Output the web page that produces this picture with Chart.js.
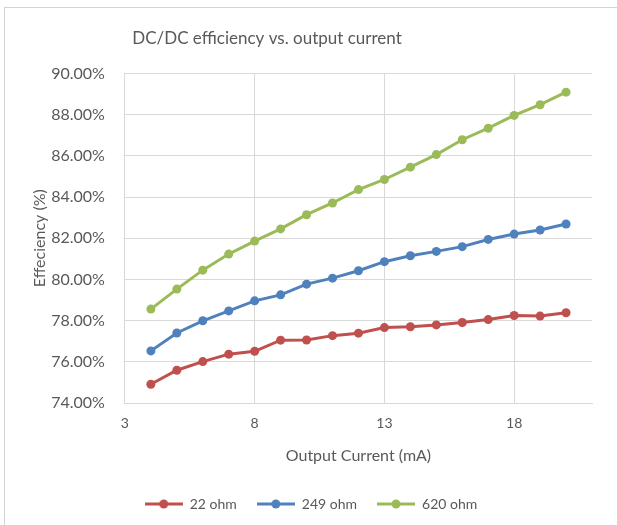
<!DOCTYPE html>
<html lang="en">
<head>
    <meta charset="UTF-8">
    <title>DC/DC efficiency vs. output current</title>
    <script src="https://cdn.jsdelivr.net/npm/chart.js"></script>
    <style>
        html, body { margin: 0; padding: 0; background: #fff; }
        #wrap { position: relative; width: 617px; height: 525px; }
        #frame { position: absolute; left: 4px; top: 7px; right: 0; bottom: 0;
                 border-top: 1px solid #d4d4d4; border-left: 1px solid #d4d4d4; }
        canvas { position: absolute; left: 0; top: 0; }
    </style>
</head>
<body>
<div id="wrap">
    <div id="frame"></div>
    <canvas id="effChart" width="617" height="525"></canvas>
</div>
<script>
    // output current (mA)
    const currents = [4, 5, 6, 7, 8, 9, 10, 11, 12, 13, 14, 15, 16, 17, 18, 19, 20];

    // efficiency (%) per load resistor
    const eff22 = [74.91, 75.59, 76.01, 76.37, 76.51, 77.05, 77.06, 77.27, 77.39, 77.66, 77.70, 77.79, 77.91, 78.05, 78.25, 78.22, 78.38];
    const eff249 = [76.53, 77.40, 77.99, 78.47, 78.96, 79.25, 79.77, 80.06, 80.42, 80.86, 81.15, 81.36, 81.59, 81.94, 82.20, 82.40, 82.69];
    const eff620 = [78.56, 79.53, 80.45, 81.23, 81.86, 82.45, 83.14, 83.71, 84.36, 84.85, 85.45, 86.06, 86.78, 87.34, 87.96, 88.48, 89.09];

    const seriesNames = ['22 ohm', '249 ohm', '620 ohm'];
    const seriesColors = ['#C0504D', '#4F81BD', '#9BBB59'];

    // axis ticks
    const xTickValues = [3, 8, 13, 18];
    const xMin = 3, xMax = 21;
    const yMin = 74, yMax = 90, yStep = 2;

    const textColor = '#595959';
    const gridColor = '#d9d9d9';
    const fontFamily = 'Lato, "Open Sans", sans-serif';

    // petite image "ligne + point" pour la légende, comme Excel
    function legendMarker(color) {
        const c = document.createElement('canvas');
        c.width = 38; c.height = 12;
        const g = c.getContext('2d');
        g.strokeStyle = color;
        g.lineWidth = 3;
        g.beginPath(); g.moveTo(0, 6); g.lineTo(38, 6); g.stroke();
        g.fillStyle = color;
        g.beginPath(); g.arc(19, 6, 4.5, 0, Math.PI * 2); g.fill();
        return c;
    }

    function toPoints(values) {
        return currents.map((x, i) => ({ x: x, y: values[i] }));
    }

    // le titre Excel n'est pas centré sur tout le canvas : on le décale un peu à gauche
    const shiftTitle = {
        id: 'shiftTitle',
        afterLayout(chart) {
            if (chart.titleBlock) chart.titleBlock.right -= 88;
        }
    };

    const allValues = [eff22, eff249, eff620];
    const datasets = allValues.map((vals, i) => ({
        label: seriesNames[i],
        data: toPoints(vals),
        borderColor: seriesColors[i],
        backgroundColor: seriesColors[i],
        borderWidth: 3,
        pointRadius: 4.5,
        pointHoverRadius: 4.5,
        pointBorderWidth: 0,
        pointStyle: 'circle',
        tension: 0
    }));

    const ctx = document.getElementById('effChart').getContext('2d');
    new Chart(ctx, {
        type: 'line',
        data: { datasets: datasets },
        plugins: [shiftTitle],
        options: {
            responsive: false,
            animation: false,
            layout: { padding: { top: 28, right: 25, left: 30, bottom: 4 } },
            plugins: {
                title: {
                    display: true,
                    text: 'DC/DC efficiency vs. output current',
                    color: textColor,
                    font: { family: fontFamily, size: 17, weight: 'normal' },
                    padding: { top: 0, bottom: 25 }
                },
                legend: {
                    position: 'bottom',
                    labels: {
                        color: textColor,
                        font: { family: fontFamily, size: 14 },
                        usePointStyle: true,
                        pointStyleWidth: 38,
                        padding: 20,
                        generateLabels: function (chart) {
                            return chart.data.datasets.map((ds, i) => ({
                                text: ds.label,
                                pointStyle: legendMarker(seriesColors[i]),
                                fontColor: textColor,
                                datasetIndex: i,
                                hidden: false,
                                lineWidth: 0
                            }));
                        }
                    }
                },
                tooltip: { enabled: false }
            },
            scales: {
                x: {
                    type: 'linear',
                    min: xMin,
                    max: xMax,
                    afterBuildTicks: function (scale) {
                        scale.ticks = xTickValues.map(v => ({ value: v }));
                    },
                    ticks: {
                        color: textColor,
                        font: { family: fontFamily, size: 14 },
                        padding: 12
                    },
                    grid: { color: gridColor, lineWidth: 1, drawTicks: false },
                    border: { color: gridColor },
                    title: {
                        display: true,
                        text: 'Output Current (mA)',
                        color: textColor,
                        font: { family: fontFamily, size: 16 },
                        padding: { top: 2, bottom: 12 }
                    }
                },
                y: {
                    min: yMin,
                    max: yMax,
                    ticks: {
                        stepSize: yStep,
                        color: textColor,
                        font: { family: fontFamily, size: 16 },
                        padding: 2,
                        callback: v => v.toFixed(2) + '%'
                    },
                    grid: { color: gridColor, lineWidth: 1, drawTicks: true, tickLength: 18, tickColor: 'rgba(0,0,0,0)' },
                    border: { color: gridColor },
                    title: {
                        display: true,
                        text: 'Effeciency (%)',
                        color: textColor,
                        font: { family: fontFamily, size: 16 },
                        padding: { top: 0, bottom: 0 }
                    }
                }
            }
        }
    });
</script>
</body>
</html>
